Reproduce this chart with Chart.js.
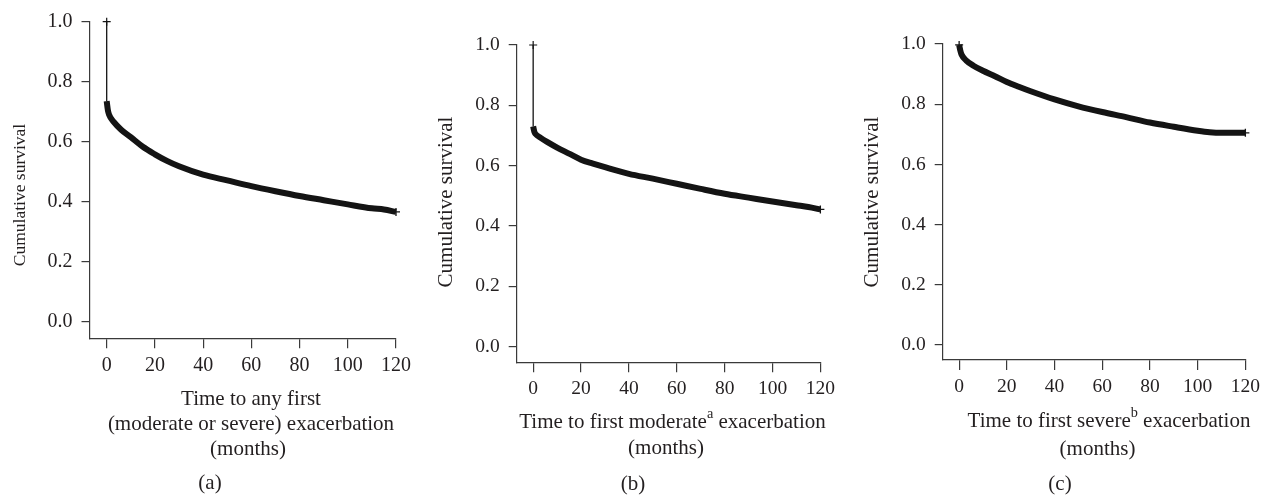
<!DOCTYPE html>
<html>
<head>
<meta charset="utf-8">
<script src="https://cdn.jsdelivr.net/npm/chart.js@4.4.1/dist/chart.umd.min.js"></script>
<style>
  html, body { margin: 0; padding: 0; background: #fff; }
  #wrap { position: relative; width: 1265px; height: 495px; }
  canvas { position: absolute; top: 0; }
</style>
</head>
<body>
<div id="wrap">
  <canvas id="chartA" width="420" height="495" style="left:0"></canvas>
  <canvas id="chartB" width="420" height="495" style="left:420px"></canvas>
  <canvas id="chartC" width="425" height="495" style="left:840px"></canvas>
</div>
<script>
// Kaplan-Meier curves, time in months
const tickMonths = [0, 20, 40, 60, 80, 100, 120];
const tickSurvival = [0, 0.2, 0.4, 0.6, 0.8, 1.0];
const startSurvival = 1.0;

const monthsA = [0, 0.5, 1, 3, 6, 10, 15, 20, 25, 30, 40, 50, 60, 70, 80, 90, 100, 110, 115, 120];
const survivalA = [0.735, 0.705, 0.69, 0.665, 0.64, 0.615, 0.583, 0.558, 0.536, 0.518, 0.49, 0.471, 0.452, 0.435, 0.419, 0.405, 0.391, 0.378, 0.374, 0.366];

const monthsB = [0, 0.5, 1, 3, 6, 10, 15, 20, 25, 30, 40, 50, 60, 70, 80, 90, 100, 110, 115, 120];
const survivalB = [0.73, 0.712, 0.705, 0.693, 0.678, 0.66, 0.64, 0.62, 0.607, 0.595, 0.573, 0.557, 0.54, 0.523, 0.507, 0.494, 0.481, 0.469, 0.463, 0.455];

const monthsC = [0, 0.5, 1, 3, 6, 10, 15, 20, 25, 30, 40, 50, 60, 70, 80, 90, 100, 105, 110, 120];
const survivalC = [0.997, 0.978, 0.965, 0.945, 0.928, 0.911, 0.893, 0.874, 0.858, 0.843, 0.816, 0.793, 0.774, 0.757, 0.739, 0.725, 0.712, 0.707, 0.705, 0.705];

const yTitle = 'Cumulative survival';
const xTitleA = [[['Time to any first']], [['(moderate or severe) exacerbation']], [['(months)']]];
const xTitleB = [[['Time to first moderate'], ['a', true], [' exacerbation']], [['(months)']]];
const xTitleC = [[['Time to first severe'], ['b', true], [' exacerbation']], [['(months)']]];

const INK = '#231f20';
const LINE = '#141414';
const FONT = '"Liberation Serif", "DejaVu Serif", serif';

// draws axis titles (with superscripts) and the panel letter
const captionPlugin = {
  id: 'captions',
  afterDraw(chart, args, opts) {
    const ctx = chart.ctx;
    ctx.save();
    ctx.fillStyle = INK;

    ctx.save();
    ctx.translate(opts.yTitle.x, opts.yTitle.y);
    ctx.rotate(-Math.PI / 2);
    ctx.font = opts.yTitle.size + 'px ' + FONT;
    ctx.textAlign = 'center';
    ctx.textBaseline = 'middle';
    ctx.fillText(yTitle, 0, 0);
    ctx.restore();

    ctx.textAlign = 'left';
    ctx.textBaseline = 'alphabetic';
    const size = opts.size;
    const supSize = size * 0.68;
    opts.lines.forEach((segs, i) => {
      const pos = opts.linePos[i];
      let total = 0;
      segs.forEach(([txt, sup]) => {
        ctx.font = (sup ? supSize : size) + 'px ' + FONT;
        total += ctx.measureText(txt).width;
      });
      let x = pos.x - total / 2;
      segs.forEach(([txt, sup]) => {
        ctx.font = (sup ? supSize : size) + 'px ' + FONT;
        ctx.fillText(txt, x, sup ? pos.y - size * 0.46 : pos.y);
        x += ctx.measureText(txt).width;
      });
    });

    ctx.font = size + 'px ' + FONT;
    ctx.textAlign = 'center';
    ctx.fillText(opts.label.text, opts.label.x, opts.label.y);
    ctx.restore();
  }
};

function toPoints(months, survival) {
  return months.map((m, i) => ({ x: m, y: survival[i] }));
}

function makePanel(id, p) {
  const ctx = document.getElementById(id).getContext('2d');
  const curve = toPoints(p.months, p.survival);
  const last = curve.length - 1;

  const datasets = [{
    data: curve,
    borderColor: LINE,
    backgroundColor: LINE,
    borderWidth: 6,
    cubicInterpolationMode: 'monotone',
    pointStyle: 'cross',
    pointRadius: (c) => (c.dataIndex === last || (p.startCross && c.dataIndex === 0) ? 4 : 0),
    pointBorderWidth: 1.3,
    pointBorderColor: LINE,
    clip: false
  }];
  if (p.drop) {
    // vertical drop at time zero
    datasets.push({
      data: [{ x: p.months[0], y: startSurvival }, { x: p.months[0], y: p.survival[0] }],
      borderColor: LINE,
      borderWidth: 1.3,
      pointStyle: 'cross',
      pointRadius: (c) => (c.dataIndex === 0 ? 4 : 0),
      pointBorderWidth: 1.2,
      pointBorderColor: LINE,
      clip: false
    });
  }

  const axisColor = '#3a3a3a';
  return new Chart(ctx, {
    type: 'line',
    data: { datasets },
    plugins: [captionPlugin],
    options: {
      responsive: false,
      animation: false,
      devicePixelRatio: 1,
      layout: { padding: { top: p.area.top, right: p.width - p.area.right, left: 0, bottom: 0 } },
      plugins: {
        legend: { display: false },
        tooltip: { enabled: false },
        captions: p.captions
      },
      scales: {
        x: {
          type: 'linear',
          min: p.xMin,
          max: 120,
          afterBuildTicks: (axis) => { axis.ticks = tickMonths.map((v) => ({ value: v })); },
          afterFit: (scale) => { scale.height = 495 - p.area.bottom; },
          border: { display: true, color: axisColor, width: 1.2 },
          grid: { drawOnChartArea: false, drawTicks: true, tickLength: 10, color: axisColor, lineWidth: 1.2 },
          ticks: { color: INK, font: { family: FONT, size: p.tickSize }, padding: 5, maxRotation: 0, callback: (v) => String(v) }
        },
        y: {
          min: p.yMin,
          max: 1.0,
          afterBuildTicks: (axis) => { axis.ticks = tickSurvival.map((v) => ({ value: v })); },
          afterFit: (scale) => { scale.width = p.area.left; },
          border: { display: true, color: axisColor, width: 1.2 },
          grid: { drawOnChartArea: false, drawTicks: true, tickLength: 8, color: axisColor, lineWidth: 1.2 },
          ticks: { color: INK, font: { family: FONT, size: p.tickSize }, padding: 9, callback: (v) => v.toFixed(1) }
        }
      }
    }
  });
}

makePanel('chartA', {
  months: monthsA, survival: survivalA, drop: true, startCross: false,
  width: 420, area: { left: 89.5, right: 396, top: 21.7, bottom: 338.3 },
  xMin: -7.13, yMin: -0.0553, tickSize: 20,
  captions: {
    size: 21,
    yTitle: { x: 20, y: 195, size: 17.5 },
    lines: xTitleA,
    linePos: [{ x: 251, y: 405 }, { x: 251, y: 430 }, { x: 248, y: 455 }],
    label: { text: '(a)', x: 210, y: 489 }
  }
});

makePanel('chartB', {
  months: monthsB, survival: survivalB, drop: true, startCross: false,
  width: 420, area: { left: 96.7, right: 402.7, top: 45, bottom: 362.3 },
  xMin: -6.88, yMin: -0.0517, tickSize: 19.5,
  captions: {
    size: 21,
    yTitle: { x: 26, y: 202, size: 21 },
    lines: xTitleB,
    linePos: [{ x: 252.5, y: 428 }, { x: 246, y: 454 }],
    label: { text: '(b)', x: 213, y: 490 }
  }
});

makePanel('chartC', {
  months: monthsC, survival: survivalC, drop: false, startCross: true,
  width: 425, area: { left: 102.7, right: 408.3, top: 44, bottom: 360 },
  xMin: -6.89, yMin: -0.0498, tickSize: 19.5,
  captions: {
    size: 21,
    yTitle: { x: 32.5, y: 202, size: 21 },
    lines: xTitleC,
    linePos: [{ x: 269, y: 427 }, { x: 257.5, y: 455 }],
    label: { text: '(c)', x: 220, y: 490 }
  }
});
</script>
</body>
</html>
